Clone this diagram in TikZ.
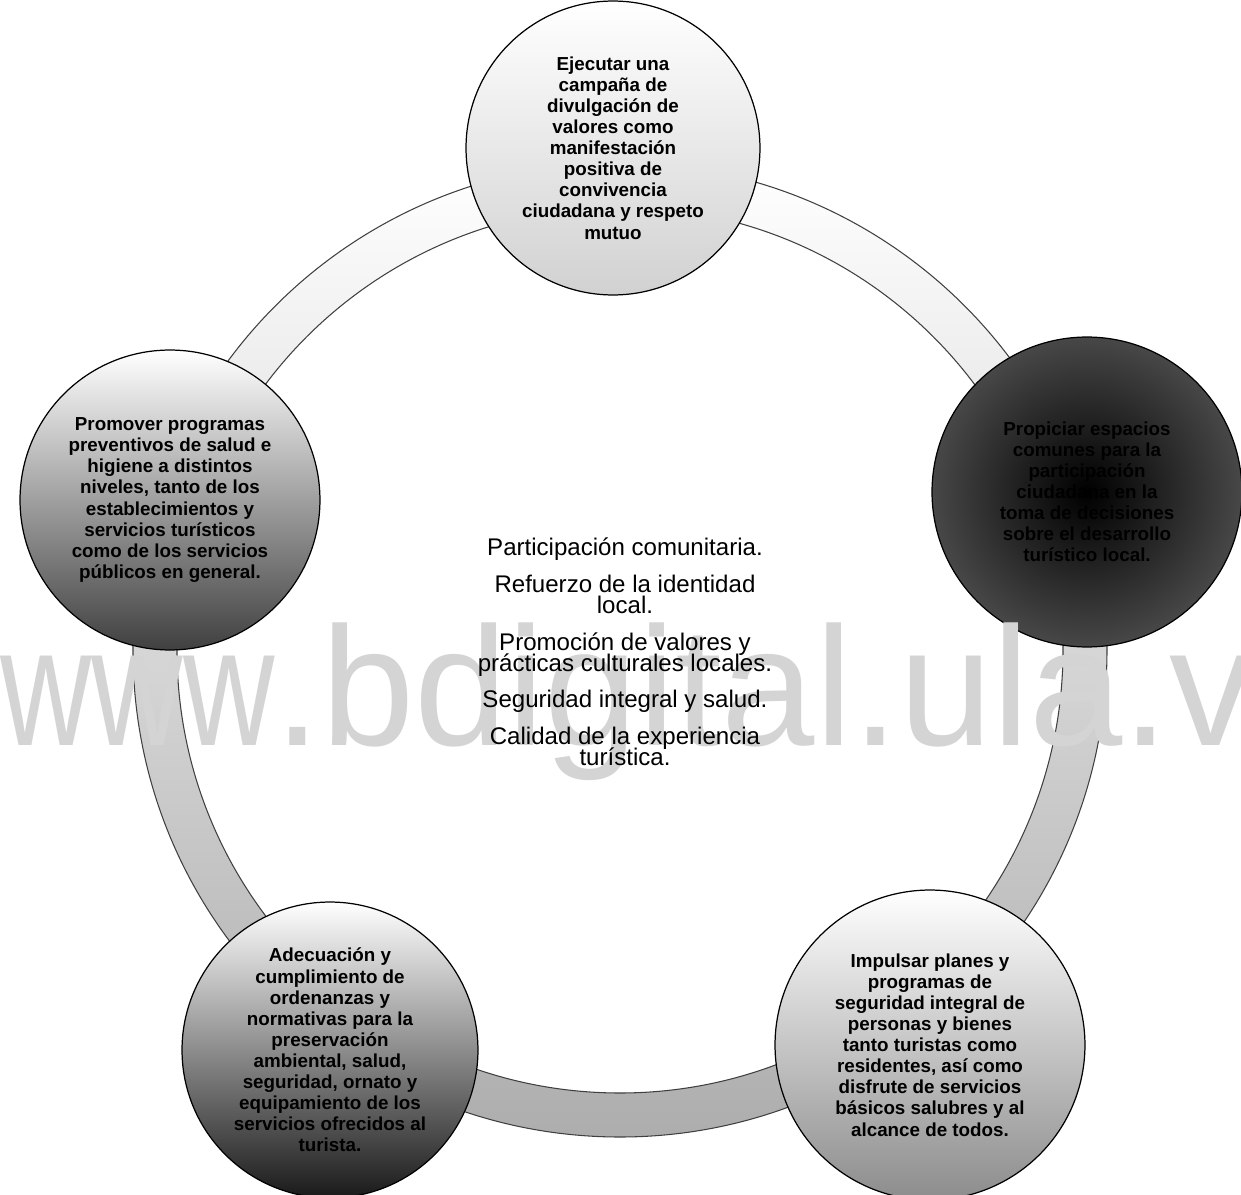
\documentclass[tikz,border=0pt]{standalone}
\usepackage{fontspec}
\setmainfont{Liberation Sans}
\newcommand\tightlines{\setlength\lineskiplimit{-100pt}\setlength\lineskip{0pt}}
\begin{document}
\begin{tikzpicture}[x=0.02cm,y=0.02cm,
  bubble/.style={circle,draw=black,line width=0.7pt,inner sep=0pt,align=center,
    font=\bfseries\fontsize{10.7}{12}\selectfont\tightlines},
  ringline/.style={draw=black!75,line width=0.6pt},
  watermark/.style={text=black!17,inner sep=0pt,font=\fontsize{96.4}{100}\selectfont},
  ]
\useasboundingbox (-620,-544) rectangle (621,650);
\coordinate (O) at (0,0);
\coordinate (P0) at (-7,502);
\coordinate (P1) at (467,158);
\coordinate (P2) at (310,-395);
\coordinate (P3) at (-290,-400);
\coordinate (P4) at (-450,150);
% ring
\path [even odd rule,top color=white,bottom color=black!32] (O) circle (487) (O) circle (443);
\draw [ringline] (O) circle (487);
\draw [ringline] (O) circle (443);
% circles
\node [bubble,minimum size=5.88cm,top color=white,bottom color=black!18] (C0) at (P0)
  {Ejecutar una\\campaña de\\divulgación de\\valores como\\manifestación\\positiva de\\convivencia\\ciudadana y respeto\\mutuo};
\node [bubble,minimum size=6.2cm,inner color=black,outer color=black!72] (C1) at (P1)
  {Propiciar espacios\\comunes para la\\participación\\ciudadana en la\\toma de decisiones\\sobre el desarrollo\\turístico local.};
\node [bubble,minimum size=6.2cm,top color=white,bottom color=black!45] (C2) at (P2)
  {Impulsar planes y\\programas de\\seguridad integral de\\personas y bienes\\tanto turistas como\\residentes, así como\\disfrute de servicios\\básicos salubres y al\\alcance de todos.};
\node [bubble,minimum size=5.92cm,top color=white,bottom color=black!90] (C3) at (P3)
  {Adecuación y\\cumplimiento de\\ordenanzas y\\normativas para la\\preservación\\ambiental, salud,\\seguridad, ornato y\\equipamiento de los\\servicios ofrecidos al\\turista.};
\node [bubble,minimum size=6cm,top color=white,bottom color=black!75] (C4) at (P4)
  {Promover programas\\preventivos de salud e\\higiene a distintos\\niveles, tanto de los\\establecimientos y\\servicios turísticos\\como de los servicios\\públicos en general.};
\node [watermark,anchor=base west] (W) at (-620,-95)
  {\scalebox{0.99}[1]{\scalebox{0.755}[1]{www}.bdigital.ula.v}};
% centre text
\node [align=center,inner sep=0pt,font=\fontsize{13.7}{12.2}\selectfont\tightlines] (T) at (5,-2)
  {Participación comunitaria.\\[8.5pt]
   Refuerzo de la identidad\\local.\\[8.5pt]
   Promoción de valores y\\prácticas culturales locales.\\[8.5pt]
   Seguridad integral y salud.\\[8.5pt]
   Calidad de la experiencia\\turística.};
\end{tikzpicture}
\end{document}
